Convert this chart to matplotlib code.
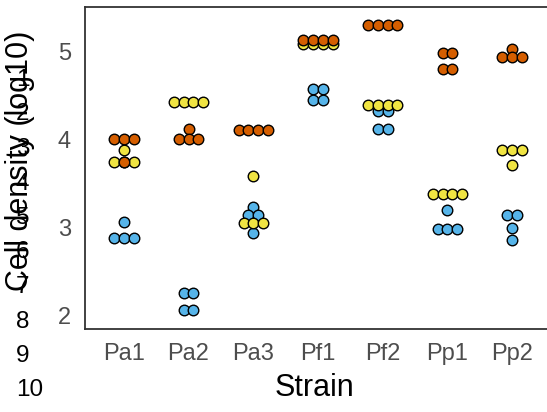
import matplotlib
matplotlib.use("Agg")
import matplotlib.pyplot as plt
import numpy as np

plt.rcParams['font.family'] = ['Liberation Sans', 'DejaVu Sans']

strains = ["Pa1", "Pa2", "Pa3", "Pf1", "Pf2", "Pp1", "Pp2"]

# log10 cell density per strain, one list of replicates per condition
blue_vals = [
    [3.07, 2.88, 2.88, 2.88],
    [2.26, 2.26, 2.07, 2.07],
    [3.24, 3.15, 3.15, 2.94],
    [4.58, 4.58, 4.45, 4.45],
    [4.33, 4.33, 4.12, 4.12],
    [3.20, 2.99, 2.99, 2.99],
    [3.15, 3.15, 3.00, 2.86],
]
yellow_vals = [
    [3.88, 3.75, 3.75, 3.75],
    [4.43, 4.43, 4.43, 4.43],
    [3.59, 3.06, 3.06, 3.06],
    [5.09, 5.09, 5.09, 5.09],
    [4.40, 4.40, 4.40, 4.40],
    [3.39, 3.39, 3.39, 3.39],
    [3.88, 3.88, 3.88, 3.71],
]
orange_vals = [
    [4.01, 4.01, 4.01, 3.75],
    [4.12, 4.01, 4.01, 4.01],
    [4.11, 4.11, 4.11, 4.11],
    [5.14, 5.14, 5.14, 5.14],
    [5.30, 5.30, 5.30, 5.30],
    [4.99, 4.99, 4.81, 4.81],
    [5.03, 4.94, 4.94, 4.94],
]
y_ticks = [2, 3, 4, 5]
side_numbers = [str(i) for i in range(1, 11)]

groups = [(blue_vals, "#56B4E9"), (yellow_vals, "#F0E442"), (orange_vals, "#D55E00")]

W, H = 547, 412
fig = plt.figure(figsize=(W / 100, H / 100), dpi=100)
ax = fig.add_axes([85 / W, (H - 329) / H, 466 / W, 322 / H])

step = 0.15  # horizontal spacing of stacked dots, in category units
for vals, color in groups:
    for i, reps in enumerate(vals):
        xc = i + 1
        uniq = []
        for v in reps:
            if v not in uniq:
                uniq.append(v)
        for v in uniq:
            n = reps.count(v)
            offs = (np.arange(n) - (n - 1) / 2) * step
            ax.plot(xc + offs, [v] * n, linestyle="none", marker="o",
                    markersize=7.6, markerfacecolor=color,
                    markeredgecolor="black", markeredgewidth=1.0, zorder=3)

ax.set_xlim(0.4, 7.6)
ax.set_ylim(1.85, 5.51)
ax.set_xticks(range(1, len(strains) + 1))
ax.set_xticklabels(strains)
ax.set_yticks(y_ticks)
ax.set_yticklabels([str(t) for t in y_ticks])
ax.tick_params(length=0, labelsize=17, labelcolor="#4D4D4D", pad=10)
for sp in ax.spines.values():
    sp.set_color("#333333")
    sp.set_linewidth(1.3)

fig.text(314 / W, 1 - 388 / H, "Strain", fontsize=22, ha="center", va="center")
fig.text(20 / W, 1 - 161 / H, "Cell density (log10)", fontsize=22,
         rotation=90, ha="center", va="center")

top, sp_px = 80, 34.5
for k, s in enumerate(side_numbers):
    fig.text(16 / W, 1 - (top + k * sp_px) / H, s, fontsize=17.5,
             ha="left", va="center")

fig.savefig("out.png", dpi=100)
